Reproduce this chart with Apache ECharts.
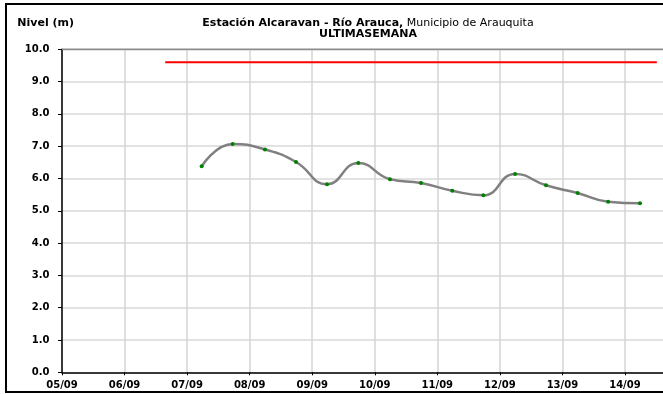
<!DOCTYPE html>
<html>
<head>
<meta charset="utf-8">
<script src="https://cdn.jsdelivr.net/npm/echarts@6/dist/echarts.min.js"></script>
<style>
html,body{margin:0;padding:0;background:#fff;}
#c{width:663px;height:394px;}
</style>
</head>
<body>
<div id="c"></div>
<script>
// Tick labels of the x axis (one per day, starting at day 0 = 05/09)
var dayLabels = ['05/09','06/09','07/09','08/09','09/09','10/09','11/09','12/09','13/09','14/09','15/09'];
// Measurement times as day offsets from 05/09 00:00
var obsDays = [2.233, 2.729, 3.245, 3.741, 4.237, 4.737, 5.243, 5.739, 6.240, 6.736, 7.243, 7.738, 8.243, 8.731, 9.241];
// Water level (m)
var obsLevel = [6.38, 7.07, 6.90, 6.51, 5.82, 6.48, 5.98, 5.86, 5.62, 5.48, 6.14, 5.79, 5.55, 5.28, 5.23];
// Alert threshold line
var alertDays = [1.65, 9.51];
var alertLevel = [9.6, 9.6];

var chart = echarts.init(document.getElementById('c'));
var FONT = '"DejaVu Sans", Verdana, sans-serif';
var levelData = obsDays.map(function(d,i){return [d, obsLevel[i]];});
var alertData = alertDays.map(function(d,i){return [d, alertLevel[i]];});

chart.setOption({
  animation:false,
  backgroundColor:'#fff',
  grid:{left:62, width:625.5, top:49.3, height:323, show:false, containLabel:false, outerBoundsMode:'none'},
  graphic:[
    {type:'rect', shape:{x:6, y:4, width:700, height:388}, style:{fill:'none', stroke:'#000', lineWidth:2}, z:100},
    {type:'line', shape:{x1:62, y1:49.3, x2:663, y2:49.3}, style:{stroke:'#8c8c8c', lineWidth:1.5}, z:50},
    {type:'text', x:17.3, y:22.7, style:{text:'Nivel (m)', font:'bold 11px '+FONT, fill:'#000', textAlign:'left', textVerticalAlign:'middle'}},
    {type:'text', x:368, y:22.7, style:{rich:{b:{font:'bold 11px '+FONT, fill:'#000'}, n:{font:'11px '+FONT, fill:'#000'}}, text:'{b|Estación Alcaravan - Río Arauca,}{n| Municipio de Arauquita}', textAlign:'center', textVerticalAlign:'middle'}},
    {type:'text', x:368, y:34.5, style:{text:'ULTIMASEMANA', font:'bold 11px '+FONT, fill:'#000', textAlign:'center', textVerticalAlign:'middle'}}
  ],
  xAxis:{
    type:'value', min:0, max:10, interval:1,
    axisLine:{show:true, onZero:false, lineStyle:{color:'#000', width:1.5}},
    axisTick:{show:true, length:3, lineStyle:{color:'#000'}},
    axisLabel:{show:true, margin:8, color:'#000', fontFamily:FONT, fontWeight:'bold', fontSize:10,
      formatter:function(v){return dayLabels[Math.round(v)]||'';}},
    splitLine:{show:true, lineStyle:{color:'#d4d4d4', width:1.5}}
  },
  yAxis:{
    type:'value', min:0, max:10, interval:1,
    axisLine:{show:true, lineStyle:{color:'#000', width:1.5}},
    axisTick:{show:true, length:4, lineStyle:{color:'#000'}},
    axisLabel:{show:true, margin:12.5, color:'#000', fontFamily:FONT, fontWeight:'bold', fontSize:10,
      formatter:function(v){return v.toFixed(1);}},
    splitLine:{show:true, lineStyle:{color:'#d9d9d9', width:1.5}}
  },
  series:[
    {type:'line', data:alertData, symbol:'none', lineStyle:{color:'#ff0000', width:2}, z:3},
    {type:'line', data:levelData, smooth:0.5, symbol:'circle', symbolSize:4,
      itemStyle:{color:'#008000', borderWidth:0}, lineStyle:{color:'#808080', width:2.5}, z:4}
  ]
});
</script>
</body>
</html>
